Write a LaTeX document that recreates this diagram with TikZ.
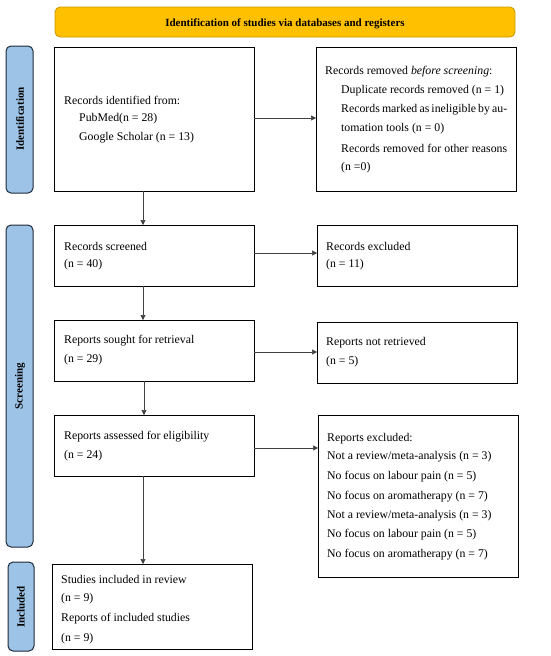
\documentclass[tikz,border=0pt]{standalone}
\usepackage{fontspec}
\setmainfont{Liberation Serif}
\usetikzlibrary{arrows.meta}
\definecolor{banner}{HTML}{FFC000}
\definecolor{bannerline}{HTML}{C99A00}
\definecolor{side}{HTML}{9DC3E6}
\definecolor{sideline}{HTML}{1F2A3A}
\tikzset{
  box/.style={draw=black, line width=1pt, fill=white},
  sidebox/.style={draw=sideline, line width=1pt, fill=side, rounded corners=5pt},
  sidetext/.style={rotate=90, font=\fontsize{11}{12}\selectfont\bfseries},
  txt/.style={anchor=west, inner sep=0pt, font=\fontsize{11.8}{13}\selectfont},
  arr/.style={draw=black!75, line width=0.6pt, -{Triangle[length=5pt,width=5pt]}}
}
\newcommand{\jl}[1]{\makebox[166pt][s]{#1}}
\begin{document}
\begin{tikzpicture}[x=1pt,y=-1pt]
\useasboundingbox (0,0) rectangle (550,656);
% banner
\draw[draw=bannerline, fill=banner, line width=0.8pt, rounded corners=5pt] (55,7) rectangle (515,37);
\node[font=\fontsize{11}{12}\selectfont\bfseries] (ban) at (285,24) {Identification of studies via databases and registers};
% side labels
\draw[sidebox] (6,46) rectangle (33,193);
\node[sidetext] (sid) at (20,119) {Identification};
\draw[sidebox] (6,225) rectangle (33,547);
\node[sidetext] (sscr) at (20,386) {Screening};
\draw[sidebox] (8,562) rectangle (34,651);
\node[sidetext] (sinc) at (21,607) {Included};
% boxes
\path[box] (54,47) rectangle (254,191);
\path[box] (316,47) rectangle (516,191);
\path[box] (54,225) rectangle (254,286);
\path[box] (317,225) rectangle (517,286);
\path[box] (54,320) rectangle (254,381);
\path[box] (317,322) rectangle (517,383);
\path[box] (54,415) rectangle (254,476);
\path[box] (318,415) rectangle (518,577);
\path[box] (52,564) rectangle (252,649);
% connector ends
\coordinate (idR) at (254,118);
\coordinate (remL) at (316,118);
\coordinate (idB) at (143,191);
\coordinate (scrT) at (143,225);
\coordinate (scrR) at (254,253);
\coordinate (excL) at (317,253);
\coordinate (scrB) at (143,286);
\coordinate (souT) at (143,320);
\coordinate (souR) at (254,352);
\coordinate (notL) at (317,352);
\coordinate (souB) at (144,381);
\coordinate (assT) at (144,415);
\coordinate (assR) at (254,448);
\coordinate (repL) at (318,448);
\coordinate (assB) at (143,476);
\coordinate (incT) at (143,564);
% texts box1
\node[txt] (t1) at (64,100) {Records identified from:};
\node[txt] (t2) at (79,119) {PubMed(n = 28)};
\node[txt] (t3) at (79,138) {Google Scholar (n = 13)};
% removed
\node[txt] (r1) at (325,72) {Records removed \textit{before screening}:};
\node[txt] (r2) at (341,91) {Duplicate records removed (n = 1)};
\node[txt] (r3) at (341,110) {\jl{Records marked as ineligible by au-}};
\node[txt] (r4) at (341,129) {tomation tools (n = 0)};
\node[txt] (r5) at (341,148) {\jl{Records removed for other reasons}};
\node[txt] (r6) at (341,168) {(n =0)};
% screened
\node[txt] (s1) at (64,246) {Records screened};
\node[txt] (s2) at (64,265) {(n = 40)};
\node[txt] (e1) at (326,246) {Records excluded};
\node[txt] (e2) at (326,265) {(n = 11)};
% sought
\node[txt] (q1) at (64,341) {Reports sought for retrieval};
\node[txt] (q2) at (64,360) {(n = 29)};
\node[txt] (n1) at (326,343) {Reports not retrieved};
\node[txt] (n2) at (326,362) {(n = 5)};
% assessed
\node[txt] (a1) at (64,437) {Reports assessed for eligibility};
\node[txt] (a2) at (64,456) {(n = 24)};
\node[txt] (x0) at (327,439) {Reports excluded:};
\node[txt] (x1) at (327,457) {Not a review/meta-analysis (n = 3)};
\node[txt] (x2) at (327,477) {No focus on labour pain (n = 5)};
\node[txt] (x3) at (327,497) {No focus on aromatherapy (n = 7)};
\node[txt] (x4) at (327,516) {Not a review/meta-analysis (n = 3)};
\node[txt] (x5) at (327,535) {No focus on labour pain (n = 5)};
\node[txt] (x6) at (327,555) {No focus on aromatherapy (n = 7)};
% included
\node[txt] (i1) at (61,579) {Studies included in review};
\node[txt] (i2) at (61,599) {(n = 9)};
\node[txt] (i3) at (61,619) {Reports of included studies};
\node[txt] (i4) at (61,639) {(n = 9)};
% arrows
\draw[arr] (idR) -- (remL);
\draw[arr] (idB) -- (scrT);
\draw[arr] (scrR) -- (excL);
\draw[arr] (scrB) -- (souT);
\draw[arr] (souR) -- (notL);
\draw[arr] (souB) -- (assT);
\draw[arr] (assR) -- (repL);
\draw[arr] (assB) -- (incT);
\end{tikzpicture}
\end{document}
